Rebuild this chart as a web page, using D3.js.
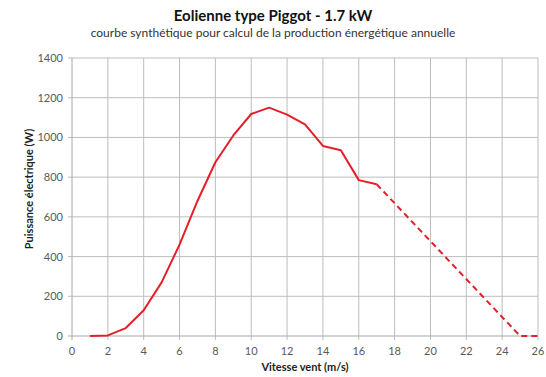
<!DOCTYPE html>
<html>
<head>
<meta charset="utf-8">
<script src="https://cdn.jsdelivr.net/npm/d3@7"></script>
<style>
  body { margin: 0; background: #fff; }
  svg text { font-family: Lato, "Open Sans", sans-serif; }
</style>
</head>
<body>
<div id="chart"></div>
<script>
// measured curve (solid part)
const windSpeed = [1, 2, 3, 4, 5, 6, 7, 8, 9, 10, 11, 12, 13, 14, 15, 16, 17];
const power = [0, 3, 40, 130, 270, 460, 680, 875, 1010, 1118, 1150, 1115, 1066, 957, 935, 785, 764];
// extrapolated part (dashed)
const extraSpeed = [17, 25, 26];
const extraPower = [764, 0, 0];

const xTicks = d3.range(0, 27, 2);
const yTicks = d3.range(0, 1401, 200);

const width = 546, height = 377;
const margin = { top: 58, right: 8, bottom: 41, left: 72 };

const svg = d3.select("#chart").append("svg")
  .attr("width", width)
  .attr("height", height);

const x = d3.scaleLinear().domain([0, 26]).range([margin.left, width - margin.right]);
const y = d3.scaleLinear().domain([0, 1400]).range([height - margin.bottom, margin.top]);

// gridlines
svg.append("g")
  .selectAll("line.v")
  .data(xTicks.slice(1))
  .enter().append("line")
  .attr("x1", d => x(d)).attr("x2", d => x(d))
  .attr("y1", y(1400)).attr("y2", y(0) + 4)
  .attr("stroke", "#bdbdbd").attr("stroke-width", 1);

svg.append("g")
  .selectAll("line.h")
  .data(yTicks.slice(1))
  .enter().append("line")
  .attr("x1", x(0) - 4).attr("x2", x(26))
  .attr("y1", d => y(d)).attr("y2", d => y(d))
  .attr("stroke", "#bdbdbd").attr("stroke-width", 1);

// axes lines
svg.append("line")
  .attr("x1", x(0) - 4).attr("x2", x(26))
  .attr("y1", y(0)).attr("y2", y(0))
  .attr("stroke", "#a6a6a6");
svg.append("line")
  .attr("x1", x(0)).attr("x2", x(0))
  .attr("y1", y(1400)).attr("y2", y(0) + 4)
  .attr("stroke", "#a6a6a6");

// tick labels
svg.append("g")
  .selectAll("text")
  .data(xTicks)
  .enter().append("text")
  .attr("x", d => x(d))
  .attr("y", y(0) + 19)
  .attr("text-anchor", "middle")
  .attr("font-size", 11)
  .attr("fill", "#595959")
  .text(d => d);

svg.append("g")
  .selectAll("text")
  .data(yTicks)
  .enter().append("text")
  .attr("x", x(0) - 9)
  .attr("y", d => y(d) + 4)
  .attr("text-anchor", "end")
  .attr("font-size", 11)
  .attr("fill", "#595959")
  .text(d => d);

// lines
const line = d3.line().x(d => x(d[0])).y(d => y(d[1]));

svg.append("path")
  .datum(d3.zip(windSpeed, power))
  .attr("d", line)
  .attr("fill", "none")
  .attr("stroke", "#e3202a")
  .attr("stroke-width", 2)
  .attr("stroke-linejoin", "round");

svg.append("path")
  .datum(d3.zip(extraSpeed, extraPower))
  .attr("d", line)
  .attr("fill", "none")
  .attr("stroke", "#e3202a")
  .attr("stroke-width", 2)
  .attr("stroke-dasharray", "6,4");

// titles
svg.append("text")
  .attr("x", 273).attr("y", 21)
  .attr("text-anchor", "middle")
  .attr("font-size", 15)
  .attr("font-weight", "bold")
  .attr("fill", "#111")
  .text("Eolienne type Piggot - 1.7 kW");

svg.append("text")
  .attr("x", 273).attr("y", 37)
  .attr("text-anchor", "middle")
  .attr("font-size", 12)
  .attr("fill", "#333")
  .text("courbe synthétique pour calcul de la production énergétique annuelle");

svg.append("text")
  .attr("x", x(13)).attr("y", 371)
  .attr("text-anchor", "middle")
  .attr("font-size", 11)
  .attr("font-weight", "bold")
  .attr("fill", "#222")
  .text("Vitesse vent (m/s)");

svg.append("text")
  .attr("transform", `translate(33, ${y(700) - 8}) rotate(-90)`)
  .attr("text-anchor", "middle")
  .attr("font-size", 11)
  .attr("font-weight", "bold")
  .attr("fill", "#222")
  .text("Puissance électrique (W)");
</script>
</body>
</html>
